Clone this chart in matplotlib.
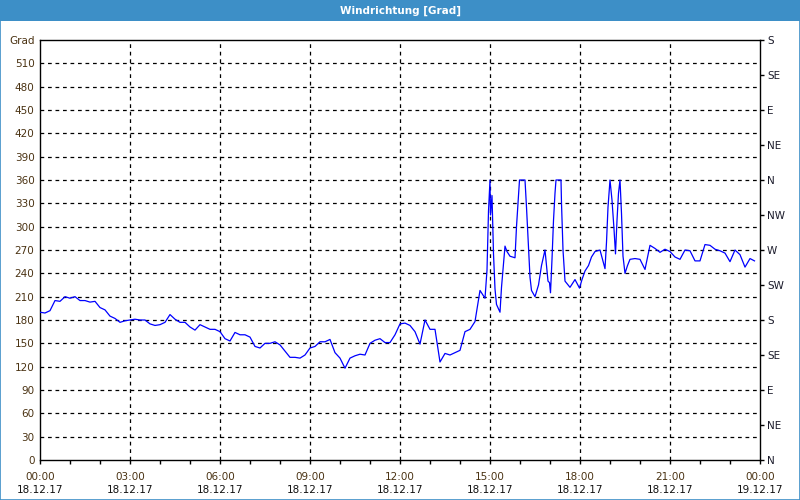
import numpy as np
import matplotlib
matplotlib.use("Agg")
import matplotlib.pyplot as plt
from matplotlib.patches import Rectangle

# minutes after 18.12.17 00:00 and wind direction in degrees
minutes = [
    0, 10, 20, 30, 40, 50, 60, 70, 80, 90, 100, 110,
    120, 130, 140, 150, 160, 170, 180, 190, 200, 210, 220, 230,
    240, 250, 260, 270, 280, 290, 300, 310, 320, 330, 340, 350,
    360, 370, 380, 390, 400, 410, 420, 430, 440, 450, 460, 470,
    480, 490, 500, 510, 520, 530, 540, 550, 560, 570, 580, 590,
    600, 610, 620, 630, 640, 650, 660, 670, 680, 690, 700, 710,
    720, 730, 740, 750, 760, 770, 780, 790, 800, 810, 820, 830,
    840, 850, 860, 870, 880, 890,
    894, 897, 899, 900, 901, 904, 907, 910, 913, 920, 923, 930,
    934, 940, 950, 953, 959, 970, 973, 980, 983, 990, 997, 1003,
    1010, 1013, 1016, 1019, 1021, 1024, 1027, 1030, 1032, 1042, 1043, 1046,
    1050, 1060, 1070, 1079, 1084, 1090, 1097, 1103, 1110, 1120, 1130, 1133,
    1136, 1140, 1144, 1148, 1151, 1154, 1157, 1160, 1163, 1166, 1170, 1175,
    1180, 1190, 1200, 1210, 1220, 1230, 1240, 1250, 1260, 1270, 1280, 1290,
    1300, 1310, 1320, 1330, 1340, 1350, 1360, 1370, 1380, 1390, 1400, 1410,
    1420, 1429,
]
grad = [
    190, 189, 192, 205, 204, 210, 208, 210, 205, 205, 203, 204,
    196, 193, 185, 182, 177, 179, 180, 181, 180, 180, 175, 173,
    174, 177, 187, 181, 177, 177, 171, 167, 174, 171, 168, 168,
    165, 156, 153, 164, 161, 161, 158, 146, 144, 150, 150, 152,
    148, 140, 132, 132, 131, 135, 144, 146, 152, 152, 155, 138,
    131, 118, 131, 134, 136, 135, 150, 154, 156, 151, 151, 161,
    175, 176, 173, 165, 149, 180, 168, 168, 126, 137, 135, 138,
    141, 165, 168, 178, 218, 208,
    244, 320, 345, 360, 315, 340, 265, 220, 200, 190, 222, 275,
    268, 262, 260, 300, 360, 360, 325, 235, 218, 210, 225, 250,
    270, 250, 230, 228, 215, 258, 308, 343, 360, 360, 330, 270,
    230, 222, 232, 221, 232, 243, 250, 261, 268, 270, 246, 280,
    325, 360, 334, 297, 265, 308, 343, 360, 317, 262, 240, 250,
    258, 259, 258, 245, 276, 272, 267, 271, 268, 261, 258, 270,
    269, 256, 256, 277, 276, 271, 269, 266, 255, 270, 264, 248,
    259, 256,
]

time_labels = ["00:00", "03:00", "06:00", "09:00", "12:00", "15:00", "18:00", "21:00", "00:00"]
date_labels = ["18.12.17"] * 8 + ["19.12.17"]
left_ticks = list(range(0, 541, 30))
right_ticks = list(range(0, 541, 45))
compass = ["N", "NE", "E", "SE", "S", "SW", "W", "NW", "N", "NE", "E", "SE", "S"]

frame_blue = "#3d8fc7"
label_brown = "#4a3212"

fig = plt.figure(figsize=(8, 5), dpi=100)
fig.patch.set_facecolor("white")

# title bar and window border
fig.patches.append(Rectangle((0, 0.958), 1, 0.042, transform=fig.transFigure,
                             facecolor=frame_blue, edgecolor="none", zorder=0))
fig.patches.append(Rectangle((0.0006, 0.001), 0.9988, 0.998, transform=fig.transFigure,
                             facecolor="none", edgecolor=frame_blue, lw=1.2, zorder=5))
fig.text(0.5, 0.979, "Windrichtung [Grad]", color="white", fontsize=7.5,
         fontweight="bold", ha="center", va="center")

ax = fig.add_axes([0.05, 0.08, 0.9, 0.84])
hours = np.array(minutes) / 60.0
ax.plot(hours, grad, color="#0000ff", lw=0.9, zorder=3)

ax.set_xlim(0, 24)
ax.set_ylim(0, 540)

for spine in ax.spines.values():
    spine.set_color("black")
    spine.set_linewidth(1.0)

# grid
for v in left_ticks[1:-1]:
    ax.axhline(v, color="black", lw=0.9, ls=(0, (3, 3)), zorder=1)
for h in range(3, 24, 3):
    ax.axvline(h, color="black", lw=0.9, ls=(0, (3, 3)), zorder=1)

# x axis
ax.set_xticks(range(0, 25, 3))
ax.set_xticklabels(time_labels, color=label_brown, fontsize=7.5)
ax.set_xticks(range(0, 25), minor=True)
ax.tick_params(axis="x", which="both", direction="out", length=3, width=1, pad=6)
for i, d in enumerate(date_labels):
    ax.text(i * 3, -0.0715, d, transform=ax.get_xaxis_transform(),
            ha="center", va="center", fontsize=7.5, color="#111111")

# left axis
ax.set_yticks(left_ticks)
ax.set_yticklabels([str(v) for v in left_ticks[:-1]] + ["Grad"],
                   color=label_brown, fontsize=7.5)
ax.tick_params(axis="y", direction="out", length=0, pad=4)

# right axis with compass directions
ax2 = ax.twinx()
ax2.set_ylim(0, 540)
ax2.set_yticks(right_ticks)
ax2.set_yticklabels(compass, fontsize=7.5, color="#1a1a2a")
ax2.tick_params(axis="y", direction="out", length=3, width=1, pad=2)
for spine in ax2.spines.values():
    spine.set_visible(False)

fig.savefig("out.png", dpi=100)
